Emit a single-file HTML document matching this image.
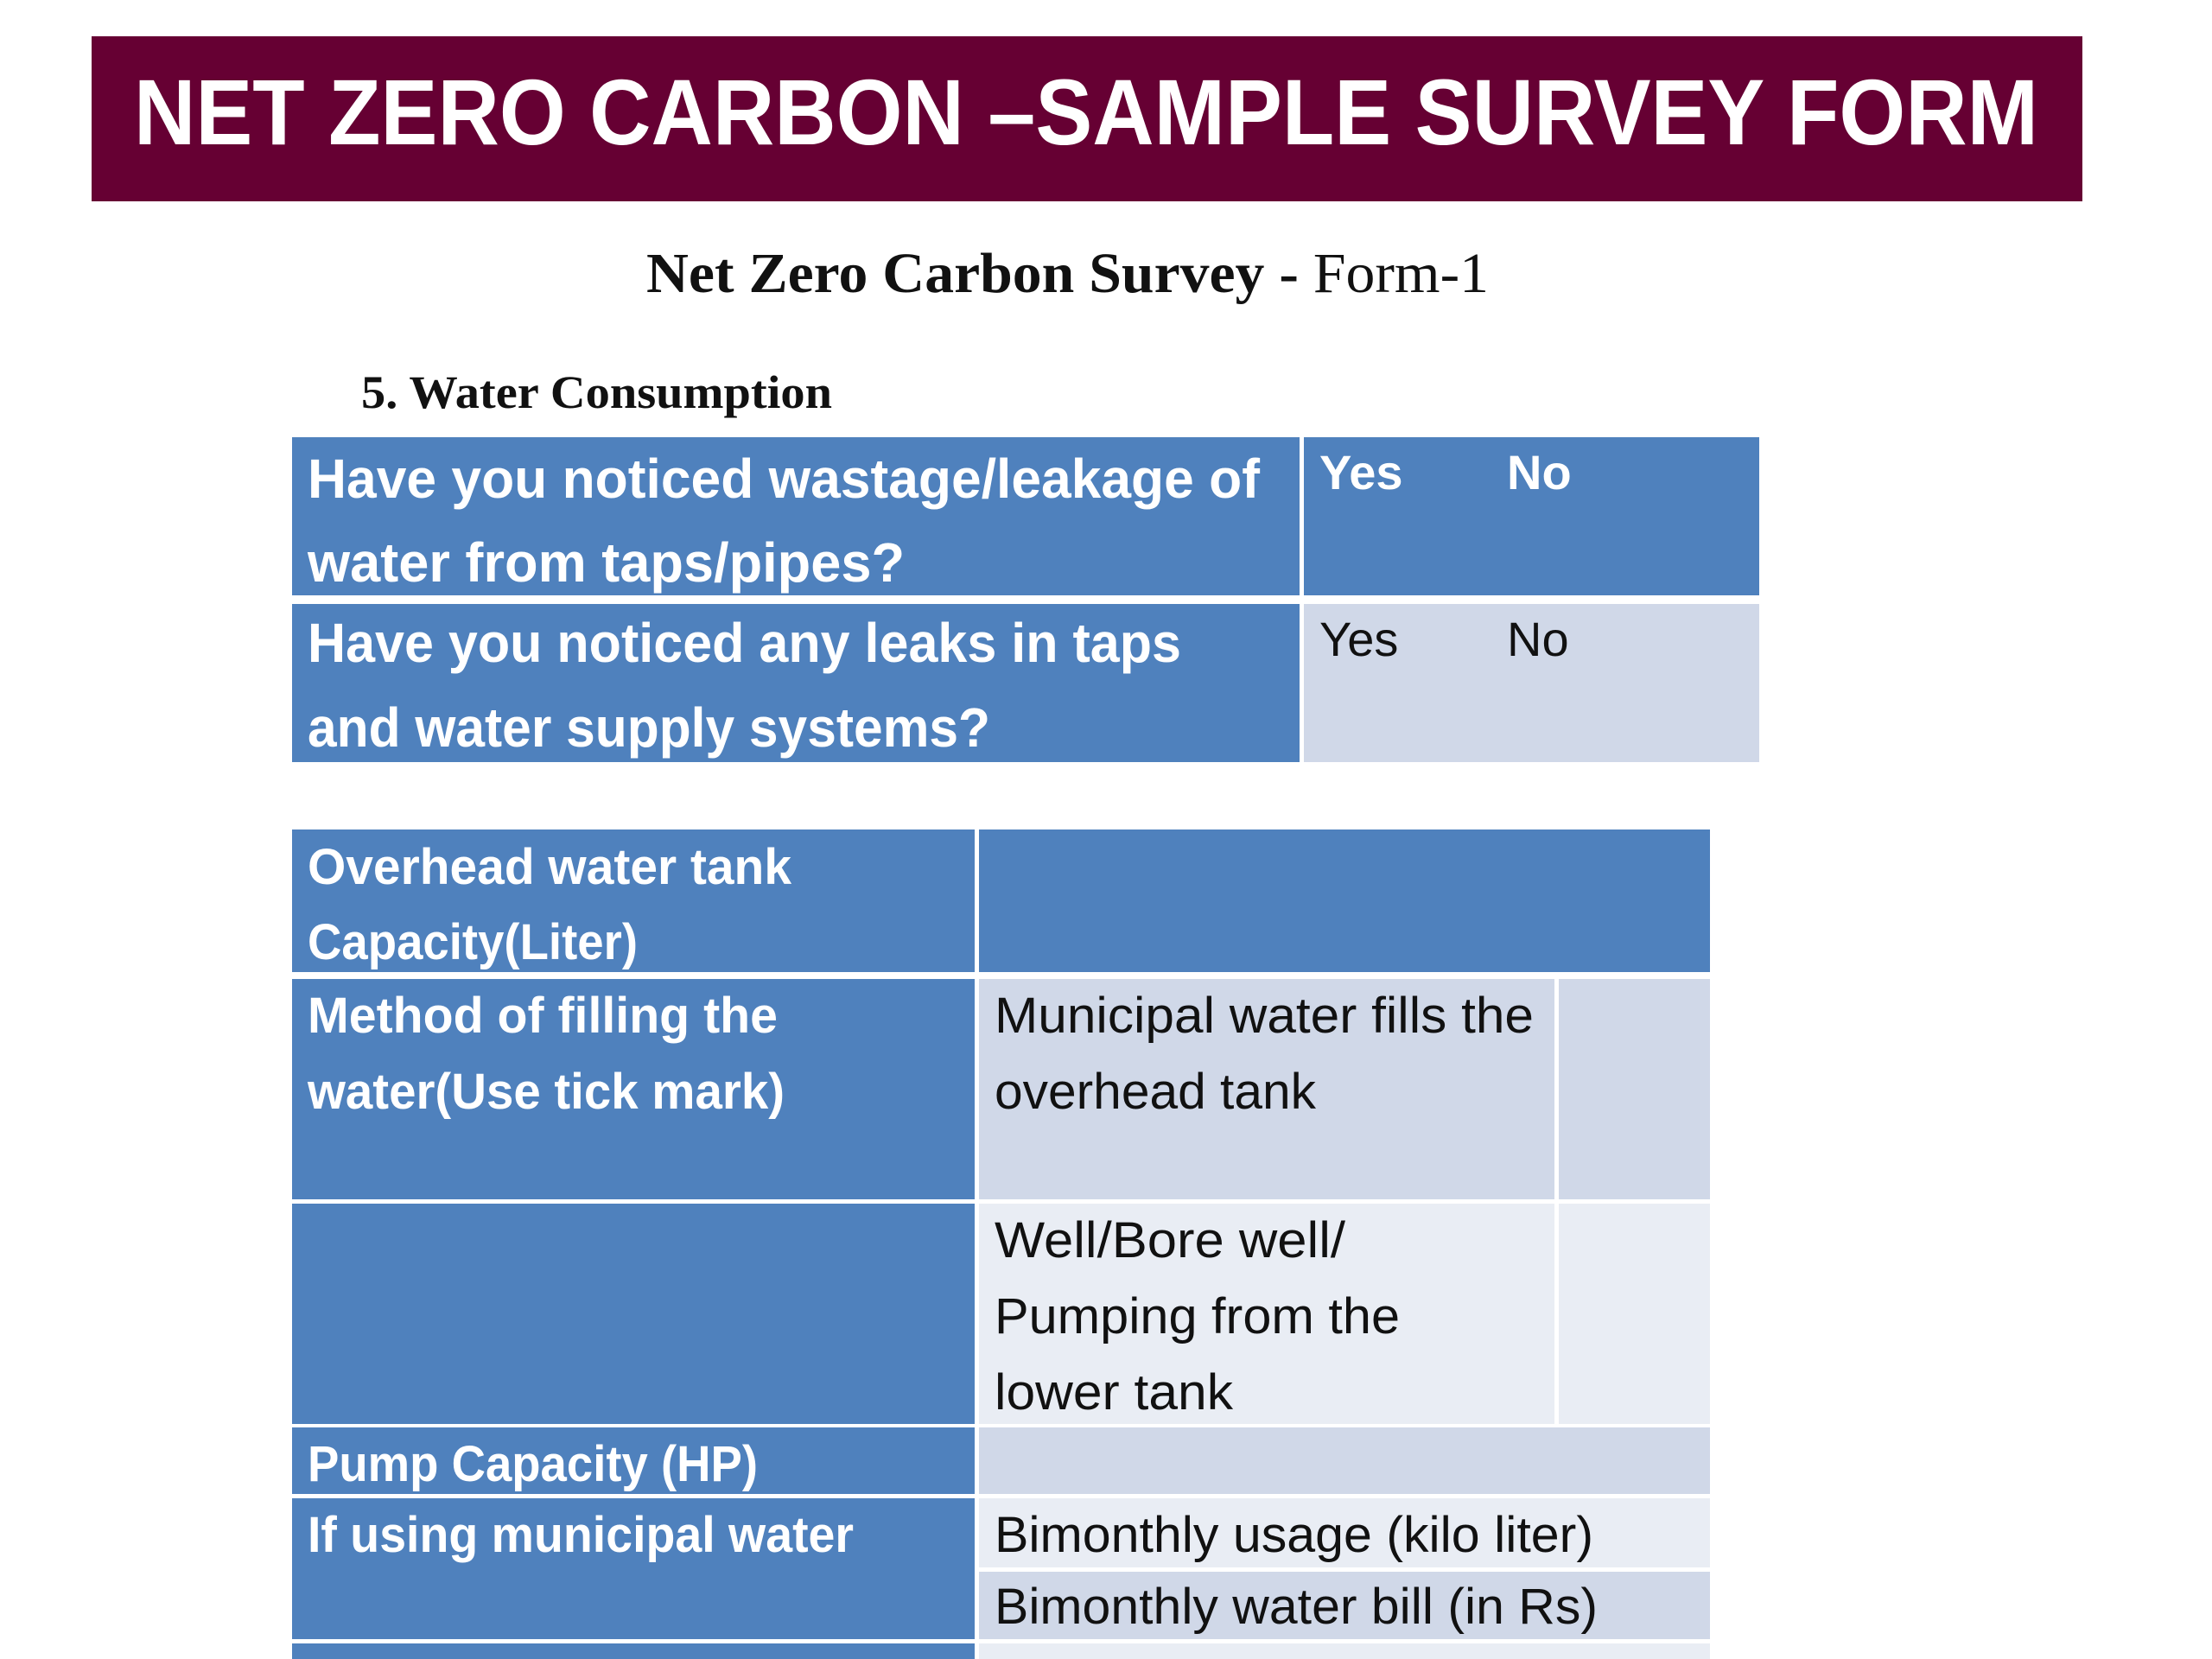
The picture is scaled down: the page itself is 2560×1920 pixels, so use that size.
<!DOCTYPE html>
<html><head><meta charset="utf-8"><style>
html,body{margin:0;padding:0;background:#fff;}
svg{display:block;}
.w{fill:#fff;font-family:"Liberation Sans",sans-serif;font-weight:bold;}
.d{fill:#111;font-family:"Liberation Sans",sans-serif;}
</style></head><body>
<svg width="2560" height="1920" viewBox="0 0 2560 1920" xmlns="http://www.w3.org/2000/svg">
<rect x="106" y="42" width="2304" height="191" fill="#660033"/>
<text x="155" y="167" class="w" font-size="108" textLength="2204" lengthAdjust="spacingAndGlyphs">NET ZERO CARBON –SAMPLE SURVEY FORM</text>

<text x="748" y="338" font-family="'Liberation Serif',serif" font-size="66" fill="#111" textLength="975" lengthAdjust="spacingAndGlyphs"><tspan font-weight="bold">Net Zero Carbon Survey - </tspan><tspan> Form-1</tspan></text>
<text x="418" y="472" font-family="'Liberation Serif',serif" font-weight="bold" font-size="54" fill="#111" textLength="545" lengthAdjust="spacingAndGlyphs">5. Water Consumption</text>

<!-- Table 1 -->
<g>
<rect x="338" y="506" width="1166" height="183" fill="#4F81BD"/>
<rect x="1509" y="506" width="527" height="183" fill="#4F81BD"/>
<rect x="338" y="699" width="1166" height="183" fill="#4F81BD"/>
<rect x="1509" y="699" width="527" height="183" fill="#D0D8E8"/>
<text x="356" y="576" class="w" font-size="64" textLength="1102" lengthAdjust="spacingAndGlyphs">Have you noticed wastage/leakage of</text>
<text x="356" y="673" class="w" font-size="64" textLength="691" lengthAdjust="spacingAndGlyphs">water from taps/pipes?</text>
<text x="1527" y="566" class="w" font-size="56">Yes</text>
<text x="1744" y="566" class="w" font-size="56">No</text>
<text x="356" y="766" class="w" font-size="64" textLength="1011" lengthAdjust="spacingAndGlyphs">Have you noticed any leaks in taps</text>
<text x="356" y="864" class="w" font-size="64" textLength="790" lengthAdjust="spacingAndGlyphs">and water supply systems?</text>
<text x="1527" y="759" class="d" font-size="56">Yes</text>
<text x="1744" y="759" class="d" font-size="56">No</text>
</g>

<!-- Table 2 -->
<g>
<rect x="338" y="960" width="790" height="165" fill="#4F81BD"/>
<rect x="1133" y="960" width="846" height="165" fill="#4F81BD"/>
<rect x="338" y="1133" width="790" height="255" fill="#4F81BD"/>
<rect x="1133" y="1133" width="666" height="255" fill="#D0D8E8"/>
<rect x="1804" y="1133" width="175" height="255" fill="#D0D8E8"/>
<rect x="338" y="1393" width="790" height="255" fill="#4F81BD"/>
<rect x="1133" y="1393" width="666" height="255" fill="#E9EDF4"/>
<rect x="1804" y="1393" width="175" height="255" fill="#E9EDF4"/>
<rect x="338" y="1652" width="790" height="77" fill="#4F81BD"/>
<rect x="1133" y="1652" width="846" height="77" fill="#D0D8E8"/>
<rect x="338" y="1734" width="790" height="163" fill="#4F81BD"/>
<rect x="1133" y="1734" width="846" height="80" fill="#E9EDF4"/>
<rect x="1133" y="1819" width="846" height="78" fill="#D0D8E8"/>
<rect x="338" y="1902" width="790" height="18" fill="#4F81BD"/>
<rect x="1133" y="1902" width="846" height="18" fill="#E9EDF4"/>

<text x="356" y="1023" class="w" font-size="58" textLength="560" lengthAdjust="spacingAndGlyphs">Overhead water tank</text>
<text x="356" y="1110" class="w" font-size="58" textLength="382" lengthAdjust="spacingAndGlyphs">Capacity(Liter)</text>
<text x="356" y="1195" class="w" font-size="58" textLength="544" lengthAdjust="spacingAndGlyphs">Method of filling the</text>
<text x="356" y="1283" class="w" font-size="58" textLength="552" lengthAdjust="spacingAndGlyphs">water(Use tick mark)</text>
<text x="1151" y="1195" class="d" font-size="58" textLength="624" lengthAdjust="spacingAndGlyphs">Municipal water fills the</text>
<text x="1151" y="1283" class="d" font-size="58" textLength="372" lengthAdjust="spacingAndGlyphs">overhead tank</text>
<text x="1151" y="1455" class="d" font-size="58" textLength="406" lengthAdjust="spacingAndGlyphs">Well/Bore well/</text>
<text x="1151" y="1543" class="d" font-size="58" textLength="469" lengthAdjust="spacingAndGlyphs">Pumping from the</text>
<text x="1151" y="1631" class="d" font-size="58" textLength="276" lengthAdjust="spacingAndGlyphs">lower tank</text>
<text x="356" y="1714" class="w" font-size="58" textLength="521" lengthAdjust="spacingAndGlyphs">Pump Capacity (HP)</text>
<text x="356" y="1796" class="w" font-size="58" textLength="632" lengthAdjust="spacingAndGlyphs">If using municipal water</text>
<text x="1151" y="1796" class="d" font-size="58" textLength="693" lengthAdjust="spacingAndGlyphs">Bimonthly usage (kilo liter)</text>
<text x="1151" y="1879" class="d" font-size="58" textLength="698" lengthAdjust="spacingAndGlyphs">Bimonthly water bill (in Rs)</text>
</g>
</svg>
</body></html>
